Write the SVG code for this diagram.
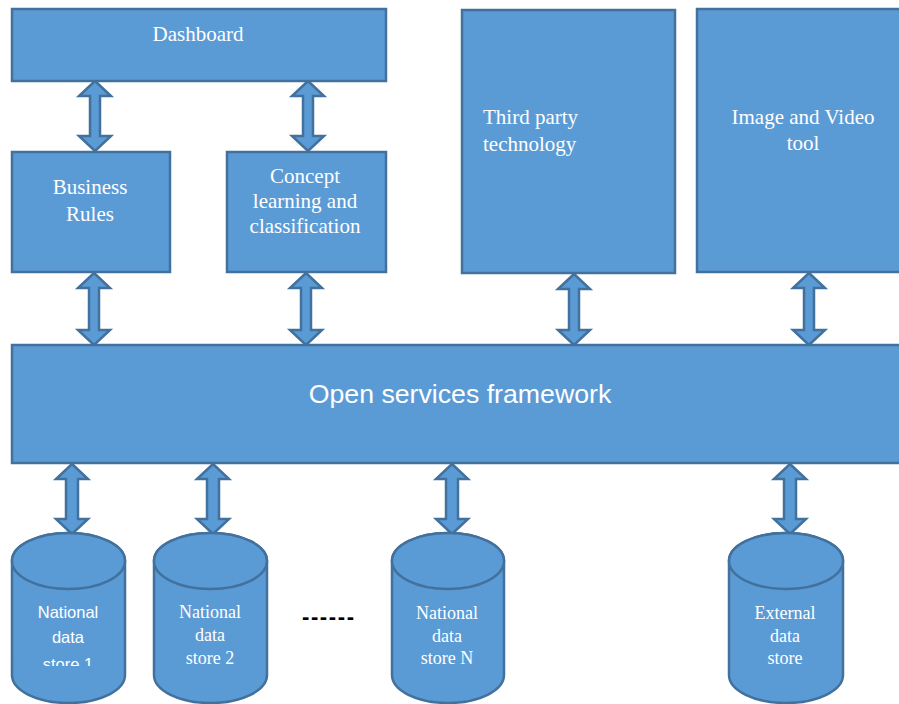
<svg xmlns="http://www.w3.org/2000/svg" width="899" height="704" viewBox="0 0 899 704">
<style>
.box{fill:#5B9BD5;stroke:#41719C;stroke-width:2.5}
.arr{fill:#5B9BD5;stroke:#41719C;stroke-width:2.5;stroke-linejoin:miter}
.t{font-family:"Liberation Serif","Times New Roman",serif;font-size:21px;fill:#FFFFFF}
.ts{font-family:"Liberation Serif","Times New Roman",serif;font-size:18px;fill:#FFFFFF;text-anchor:middle}
.tsans{font-family:"Liberation Sans",Arial,sans-serif;font-size:16.5px;fill:#FFFFFF;text-anchor:middle}
.m{text-anchor:middle}
</style>
<defs>
<clipPath id="clip1"><rect x="0" y="530" width="140" height="136"/></clipPath>
</defs>
<rect width="899" height="704" fill="#FFFFFF"/>

<g id="connectors">
<polygon class="arr" points="95,81 111,96 100,96 100,136 111,136 95,151 79,136 90,136 90,96 79,96"/>
<polygon class="arr" points="308,81 324,96 313,96 313,136 324,136 308,151 292,136 303,136 303,96 292,96"/>
<polygon class="arr" points="94,273 110,288 99,288 99,330 110,330 94,345 78,330 89,330 89,288 78,288"/>
<polygon class="arr" points="306,273 322,288 311,288 311,330 322,330 306,345 290,330 301,330 301,288 290,288"/>
<polygon class="arr" points="574,274 590,289 579,289 579,330 590,330 574,345 558,330 569,330 569,289 558,289"/>
<polygon class="arr" points="809,273 825,288 814,288 814,330 825,330 809,345 793,330 804,330 804,288 793,288"/>
<polygon class="arr" points="72,464 88,479 78,479 78,519 88,519 72,534 56,519 66,519 66,479 56,479"/>
<polygon class="arr" points="213,464 229,479 219,479 219,519 229,519 213,534 197,519 207,519 207,479 197,479"/>
<polygon class="arr" points="452,464 468,479 458,479 458,519 468,519 452,534 436,519 446,519 446,479 436,479"/>
<polygon class="arr" points="790,464 806,479 796,479 796,519 806,519 790,534 774,519 784,519 784,479 774,479"/>
</g>

<g id="dashboard">
<rect class="box" x="12" y="9" width="374" height="72"/>
<text class="t m" x="198" y="41">Dashboard</text>
</g>

<g id="business-rules">
<rect class="box" x="12" y="152" width="158" height="120"/>
<text class="t m" x="90" y="194">Business</text>
<text class="t m" x="90" y="221">Rules</text>
</g>

<g id="concept">
<rect class="box" x="227" y="152" width="159" height="120"/>
<text class="t m" x="305" y="183">Concept</text>
<text class="t m" x="305" y="208">learning and</text>
<text class="t m" x="305" y="233">classification</text>
</g>

<g id="third-party">
<rect class="box" x="462" y="10" width="213" height="263"/>
<text class="t" x="483" y="124">Third party</text>
<text class="t" x="483" y="151">technology</text>
</g>

<g id="image-video">
<rect class="box" x="697" y="9" width="206" height="263"/>
<text class="t m" x="803" y="124">Image and Video</text>
<text class="t m" x="803" y="150">tool</text>
</g>

<g id="framework">
<rect class="box" x="12" y="345" width="892" height="118"/>
<text x="460" y="403" text-anchor="middle" font-family="Liberation Sans, Arial, sans-serif" font-size="26.7" fill="#FFFFFF">Open services framework</text>
</g>

<g id="store1">
<path class="box" d="M12,561 A56.5,28 0 0 1 125,561 V675 A56.5,28 0 0 1 12,675 Z"/>
<ellipse class="box" cx="68.5" cy="561" rx="56.5" ry="28"/>
<g clip-path="url(#clip1)">
<text class="tsans" x="68" y="618">National</text>
<text class="tsans" x="68" y="643">data</text>
<text class="tsans" x="68" y="670">store 1</text>
</g>
</g>

<g id="store2">
<path class="box" d="M154,561 A56.5,28 0 0 1 267,561 V675 A56.5,28 0 0 1 154,675 Z"/>
<ellipse class="box" cx="210.5" cy="561" rx="56.5" ry="28"/>
<text class="ts" x="210" y="618">National</text>
<text class="ts" x="210" y="641">data</text>
<text class="ts" x="210" y="664">store 2</text>
</g>

<g id="dots">
<text x="328" y="624" text-anchor="middle" font-family="Liberation Sans, Arial, sans-serif" font-size="22" font-weight="bold" fill="#000000" textLength="52" lengthAdjust="spacing">------</text>
</g>

<g id="storeN">
<path class="box" d="M392,561 A56,28 0 0 1 504,561 V675 A56,28 0 0 1 392,675 Z"/>
<ellipse class="box" cx="448" cy="561" rx="56" ry="28"/>
<text class="ts" x="447" y="619">National</text>
<text class="ts" x="447" y="642">data</text>
<text class="ts" x="447" y="664">store N</text>
</g>

<g id="external">
<path class="box" d="M729,561 A57,28 0 0 1 843,561 V675 A57,28 0 0 1 729,675 Z"/>
<ellipse class="box" cx="786" cy="561" rx="57" ry="28"/>
<text class="ts" x="785" y="619">External</text>
<text class="ts" x="785" y="642">data</text>
<text class="ts" x="785" y="664">store</text>
</g>
</svg>
